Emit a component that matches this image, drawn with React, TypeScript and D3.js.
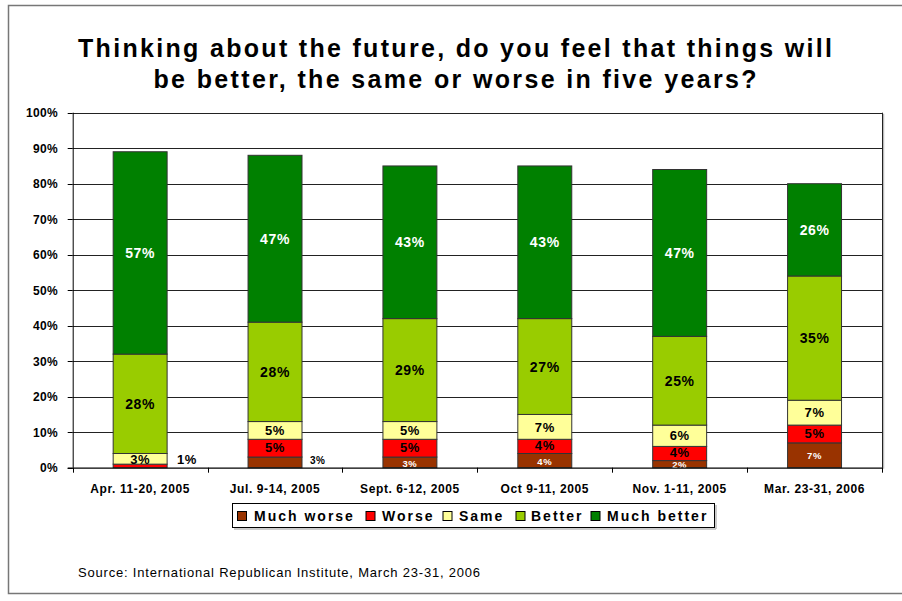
import React from "react";
import * as d3 from "d3";

const categories = [
  "Apr. 11-20, 2005",
  "Jul. 9-14, 2005",
  "Sept. 6-12, 2005",
  "Oct 9-11, 2005",
  "Nov. 1-11, 2005",
  "Mar. 23-31, 2006",
];
const seriesNames = ["Much worse", "Worse", "Same", "Better", "Much better"];
const muchWorse = [0, 3, 3, 4, 2, 7];
const worse = [1, 5, 5, 4, 4, 5];
const same = [3, 5, 5, 7, 6, 7];
const better = [28, 28, 29, 27, 25, 35];
const muchBetter = [57, 47, 43, 43, 47, 26];
// which series label is placed beside the bar (per category), null = none
const outsideLabelSeries: (number | null)[] = [1, 0, null, null, null, null];
const yTicks = [0, 10, 20, 30, 40, 50, 60, 70, 80, 90, 100];
const title = [
  "Thinking about the future, do you feel that things will",
  "be better, the same or worse in five years?",
];
const source = "Source: International Republican Institute, March 23-31, 2006";

const colors = ["#993300", "#FF0000", "#FFFF99", "#99CC00", "#008000"];
const labelFill = ["#fff", "#000", "#000", "#000", "#fff"];
const labelSize = [9.5, 13, 13, 14, 14];
const FONT = "'Liberation Sans', Arial, sans-serif";

export default function App() {
  const W = 902;
  const H = 601;
  const left = 72.7;
  const right = 882;
  const top = 112.7;
  const bottom = 467.7;

  const rows = categories.map((c, i) => ({
    cat: c,
    "Much worse": muchWorse[i],
    Worse: worse[i],
    Same: same[i],
    Better: better[i],
    "Much better": muchBetter[i],
  }));
  const stacked = d3.stack<any>().keys(seriesNames)(rows);

  const x = d3
    .scaleBand<string>()
    .domain(categories)
    .range([left, right])
    .paddingInner(0.6)
    .paddingOuter(0.3);
  const y = d3.scaleLinear().domain([0, 100]).range([bottom, top]);
  const step = x.step();
  const bw = x.bandwidth();

  const legendItems = [
    { name: "Much worse", sx: 237.5, tx: 254 },
    { name: "Worse", sx: 366, tx: 382 },
    { name: "Same", sx: 443, tx: 459 },
    { name: "Better", sx: 516, tx: 531 },
    { name: "Much better", sx: 591, tx: 607 },
  ];
  const titleWidths = [754, 603];

  return (
    <div style={{ position: "absolute", left: 0, top: 0 }}>
      <svg width={W} height={H} style={{ display: "block", fontFamily: FONT }}>
        <rect x={0} y={0} width={W} height={H} fill="#fff" />
        <rect x={8.5} y={5.5} width={W} height={588} fill="none" stroke="#777" strokeWidth={1.5} />
        {title.map((t, i) => (
          <text
            key={i}
            x={455}
            y={57 + i * 31}
            textAnchor="middle"
            fontSize={25}
            fontWeight="bold"
            textLength={titleWidths[i]}
            lengthAdjust="spacing"
            fill="#000"
          >
            {t}
          </text>
        ))}
        {/* gridlines */}
        {yTicks.map((t) => (
          <g key={t}>
            {t > 0 && (
              <line x1={left} x2={right} y1={Math.round(y(t)) + 0.5} y2={Math.round(y(t)) + 0.5} stroke="#222" strokeWidth={1} />
            )}
            <line x1={left - 5} x2={left} y1={Math.round(y(t)) + 0.5} y2={Math.round(y(t)) + 0.5} stroke="#000" />
            <text
              x={58}
              y={y(t) + 4.5}
              textAnchor="end"
              fontSize={12}
              fontWeight="bold"
              letterSpacing={0.3}
            >
              {t}%
            </text>
          </g>
        ))}
        <line x1={right + 1.5} x2={right + 1.5} y1={top + 1} y2={bottom + 1} stroke="#bbb" strokeWidth={1.5} />
        <line x1={right + 0.5} x2={right + 0.5} y1={top} y2={bottom} stroke="#222" />
        {/* bars */}
        {stacked.map((s, si) => (
          <g key={s.key}>
            {s.map((d, ci) =>
              d[1] - d[0] > 0 ? (
                <rect
                  key={ci}
                  x={x(categories[ci])!}
                  y={y(d[1])}
                  width={bw}
                  height={y(d[0]) - y(d[1])}
                  fill={colors[si]}
                  stroke="#333"
                  strokeWidth={1}
                />
              ) : null
            )}
          </g>
        ))}
        {/* labels */}
        {stacked.map((s, si) => (
          <g key={"l" + s.key}>
            {s.map((d, ci) => {
              const v = d[1] - d[0];
              if (v <= 0) return null;
              const outside = outsideLabelSeries[ci] === si;
              const cx = x(categories[ci])! + bw / 2;
              const cy = (y(d[0]) + y(d[1])) / 2;
              if (outside) {
                return (
                  <text
                    key={ci}
                    x={x(categories[ci])! + bw + (si === 0 ? 8 : 10)}
                    y={bottom - 3.5}
                    fontSize={si === 0 ? 10 : 13}
                    fontWeight="bold"
                    fill="#000"
                    letterSpacing={0.5}
                  >
                    {v}%
                  </text>
                );
              }
              const dy = si === 0 ? labelSize[si] * 0.36 + 0.8 : si === 1 ? labelSize[si] * 0.36 - 0.8 : labelSize[si] * 0.36;
              return (
                <text
                  key={ci}
                  x={cx}
                  y={cy + dy}
                  textAnchor="middle"
                  fontSize={labelSize[si]}
                  fontWeight="bold"
                  fill={labelFill[si]}
                  letterSpacing={0.6}
                >
                  {v}%
                </text>
              );
            })}
          </g>
        ))}
        {/* axes */}
        <line x1={left + 0.5} x2={left + 0.5} y1={top} y2={bottom} stroke="#000" />
        <line x1={left - 5} x2={right + 1} y1={bottom + 0.5} y2={bottom + 0.5} stroke="#000" strokeWidth={1.3} />
        {d3.range(categories.length + 1).map((i) => (
          <line
            key={i}
            x1={Math.round(left + i * step) + 0.5}
            x2={Math.round(left + i * step) + 0.5}
            y1={bottom}
            y2={bottom + 5}
            stroke="#000"
          />
        ))}
        {categories.map((c) => (
          <text
            key={c}
            x={x(c)! + bw / 2}
            y={493}
            textAnchor="middle"
            fontSize={12}
            fontWeight="bold"
            letterSpacing={0.6}
          >
            {c}
          </text>
        ))}
        {/* legend */}
        <rect x={232.5} y={503.5} width={482} height={24} fill="#fff" stroke="#000" />
        <line x1={234} x2={716} y1={529} y2={529} stroke="#bbb" strokeWidth={1.5} />
        <line x1={716} x2={716} y1={505} y2={529} stroke="#bbb" strokeWidth={1.5} />
        {legendItems.map((l, i) => (
          <g key={l.name}>
            <rect x={l.sx} y={511.5} width={9} height={9} fill={colors[i]} stroke="#000" />
            <text x={l.tx} y={521} fontSize={14} fontWeight="bold" letterSpacing={2}>
              {l.name}
            </text>
          </g>
        ))}
        <text x={78} y={577} fontSize={13} letterSpacing={0.8} fill="#000">
          {source}
        </text>
      </svg>
    </div>
  );
}
